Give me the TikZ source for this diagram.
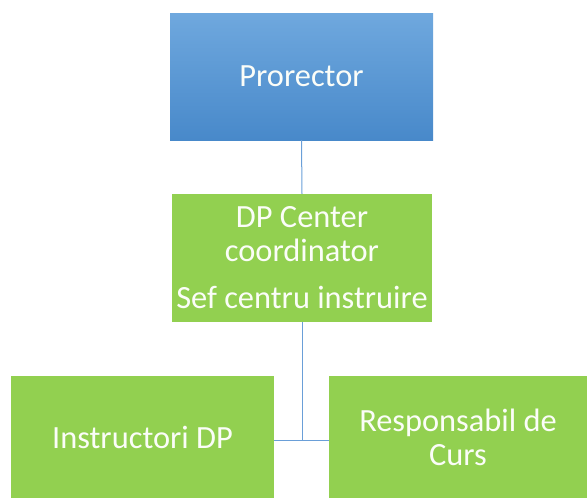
\documentclass[tikz,border=0pt]{standalone}
\usepackage{fontspec}
\setmainfont{Carlito}
\definecolor{bluetop}{HTML}{6FA8DE}
\definecolor{bluebot}{HTML}{4889CA}
\definecolor{boxgreen}{HTML}{92D050}
\definecolor{linkblue}{HTML}{6A9FD8}
\definecolor{txt}{HTML}{FBFDF8}
\begin{document}
\begin{tikzpicture}[x=1pt,y=-1pt,
  box/.style={rectangle, inner sep=0pt, align=center, text=txt,
    font=\fontsize{32.4}{34}\selectfont},
  greenbox/.style={box, fill=boxgreen},
  link/.style={draw=linkblue, line width=1pt}]
\useasboundingbox (0,0) rectangle (587,498);
\node[box, top color=bluetop, bottom color=bluebot, minimum width=263pt, minimum height=127pt] (pro) at (301.5,76.5) {Prorector};
\node[greenbox, minimum width=260pt, minimum height=128pt] (dp) at (302,258) {DP Center\\coordinator\\[13pt]Sef centru instruire};
\node[greenbox, minimum width=263pt, minimum height=122pt] (ins) at (142.5,437) {Instructori DP};
\node[greenbox, minimum width=258pt, minimum height=122pt] (resp) at (458,437) {Responsabil de\\Curs};
\coordinate (hj) at (302,440);
\draw[link] (pro.south) -- (dp.north);
\draw[link] (dp.south) -- (dp.south |- hj);
\draw[link] (ins.east |- hj) -- (resp.west |- hj);
\end{tikzpicture}
\end{document}
